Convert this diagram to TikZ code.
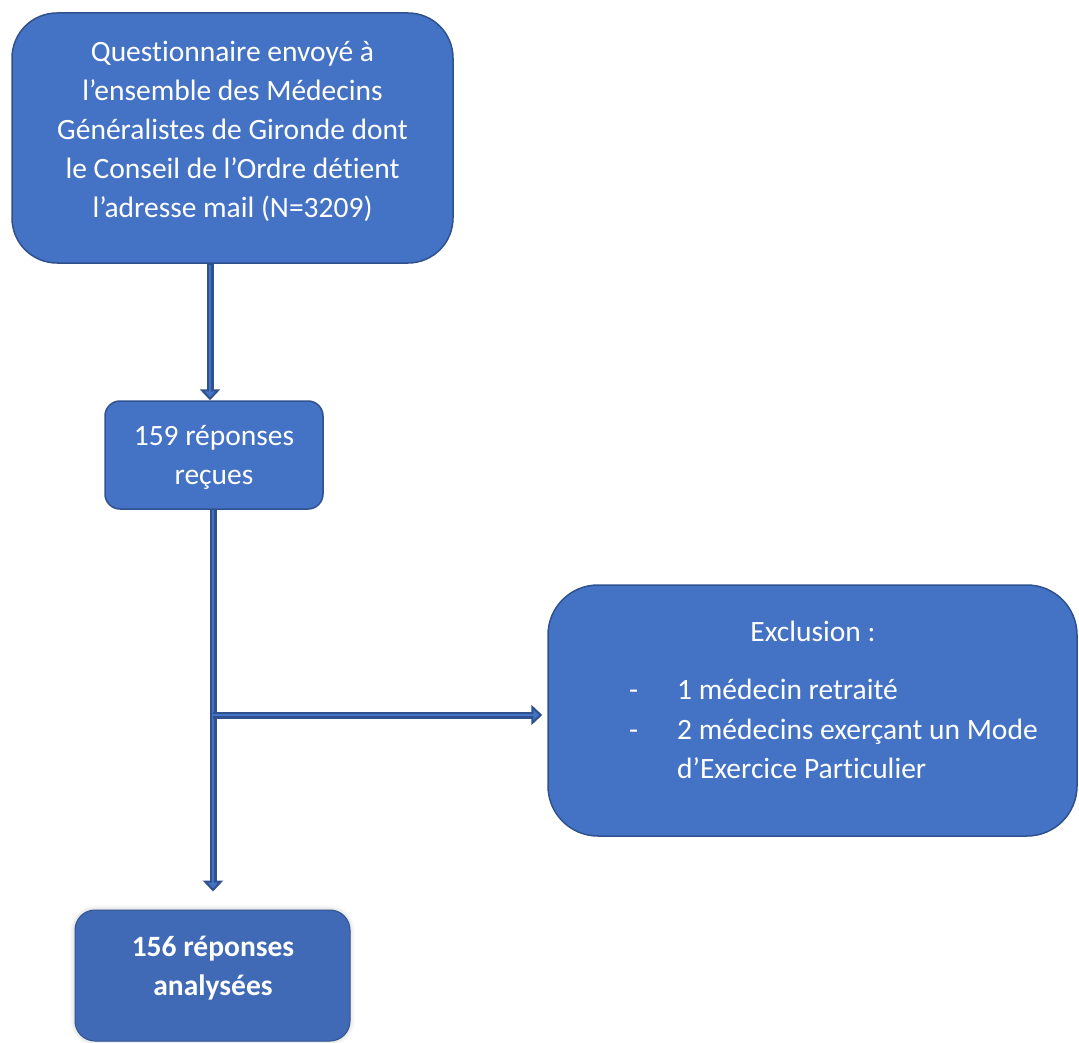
\documentclass[tikz,border=0pt]{standalone}
\usepackage{fontspec}
\setmainfont[Ligatures={NoCommon}]{Carlito}
\usetikzlibrary{arrows.meta,shadows.blur}
\definecolor{boxfill}{HTML}{4472C4}
\definecolor{boxline}{HTML}{2F528F}
\definecolor{finalfill}{HTML}{4069B6}
\begin{document}
\begin{tikzpicture}[x=1pt,y=-1pt,
  box/.style={draw=boxline, line width=1.5pt, fill=boxfill, text=white, align=center,
              font=\fontsize{29.5}{39}\selectfont, inner sep=0pt},
  boxtext/.style={text=white, font=\fontsize{29.5}{39}\selectfont, inner sep=0pt, align=center},
  connouter/.style={draw=boxline, line width=7pt, -{Triangle[length=11pt,width=20pt]}},
  conninner/.style={draw=boxfill, line width=2.5pt, shorten >=3pt, -{Triangle[length=6pt,width=10pt]}},
]
\useasboundingbox (0,0) rectangle (1079,1043);

\node[box, rounded corners=45pt, minimum width=441pt, minimum height=250pt] (q) at (232.5,138) {};
\node[boxtext, anchor=base] (qt) at (232.5,218)
  {Questionnaire envoyé à\\l’ensemble des Médecins\\Généralistes de Gironde dont\\le Conseil de l’Ordre détient\\l’adresse mail (N=3209)};

\node[box, rounded corners=15pt, minimum width=218pt, minimum height=108pt] (r) at (214,455) {};
\node[boxtext, anchor=base] (rt) at (214,484) {159 réponses\\reçues};

\node[box, rounded corners=50pt, minimum width=529pt, minimum height=251pt] (ex) at (812.5,710.5) {};
\node[boxtext, anchor=base] (ext) at (813,641) {Exclusion :};
\node[boxtext, anchor=base west] (d1) at (629,699) {-};
\node[boxtext, anchor=base west] (i1) at (677,699) {1 médecin retraité};
\node[boxtext, anchor=base west] (d2) at (629,739) {-};
\node[boxtext, anchor=base west] (i2) at (677,739) {2 médecins exerçant un Mode};
\node[boxtext, anchor=base west] (i3) at (677,778) {d’Exercice Particulier};

\node[box, fill=finalfill, draw=finalfill!80!black, line width=1pt, rounded corners=20pt,
      minimum width=275pt, minimum height=131pt,
      blur shadow={shadow xshift=0pt, shadow yshift=0pt, shadow blur radius=5pt, shadow opacity=25}] (a) at (212.5,975.5) {};
\node[boxtext, anchor=base, font=\bfseries\fontsize{29.5}{39}\selectfont] (at) at (213,995) {156 réponses\\analysées};

\coordinate (c1) at (210,0);
\coordinate (c2) at (213,0);
\coordinate (j) at (213,715);

\draw[connouter] (q.south -| c1) -- (r.north -| c1);
\draw[conninner] ([yshift=-1pt]q.south -| c1) -- (r.north -| c1);

\draw[connouter] (r.south -| c2) -- ([yshift=18pt]a.north -| c2);
\draw[conninner] (r.south -| c2) -- ([yshift=18pt]a.north -| c2);

\draw[connouter] (j) -- ([xshift=-5pt]ex.west |- j);
\draw[conninner] ([xshift=-1pt]j) -- ([xshift=-5pt]ex.west |- j);
\end{tikzpicture}
\end{document}
